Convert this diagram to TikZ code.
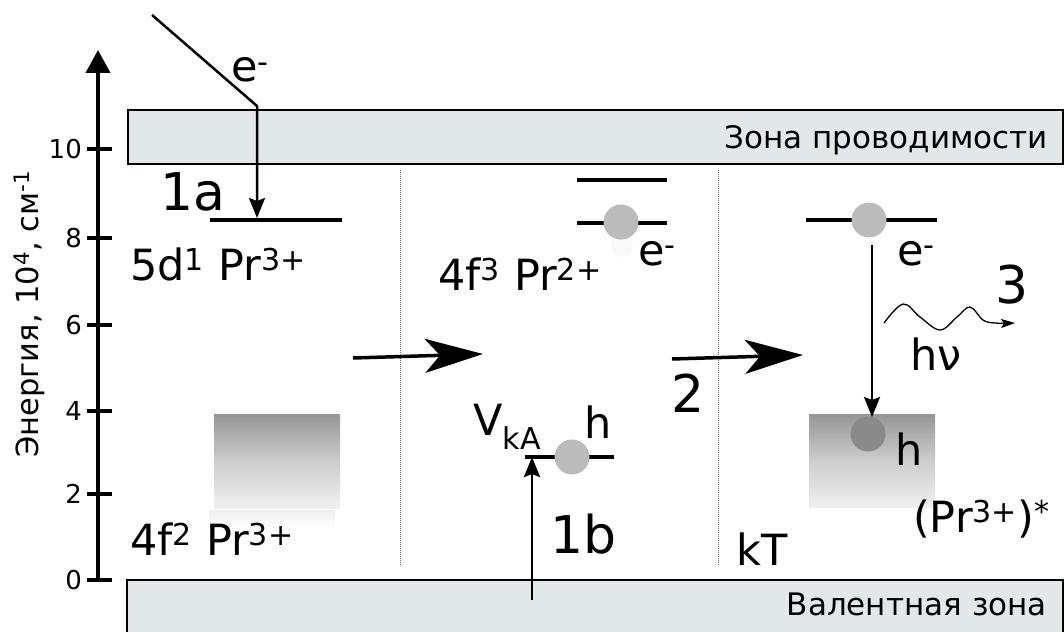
\documentclass[tikz,border=0pt]{standalone}
\usepackage{fontspec}
\setmainfont{DejaVu Sans}
\usetikzlibrary{arrows.meta}
\definecolor{bandfill}{RGB}{226,232,232}
\definecolor{dotgray}{RGB}{110,110,110}
\definecolor{ballgray}{RGB}{187,187,187}
\definecolor{balldark}{RGB}{138,138,138}
\definecolor{shtop}{RGB}{150,150,150}
\definecolor{shmid}{RGB}{205,205,205}
\definecolor{shbot}{RGB}{240,240,240}
\begin{document}
\begin{tikzpicture}[x=1pt,y=-1pt,
  lbl/.style={font=\fontsize{43}{50}\selectfont, inner sep=0pt, anchor=base west},
  biglbl/.style={font=\fontsize{52}{60}\selectfont, inner sep=0pt, anchor=base west},
  ticklbl/.style={font=\fontsize{26}{28}\selectfont, anchor=east, inner sep=0pt},
  bandlbl/.style={font=\fontsize{31}{36}\selectfont, anchor=base east, inner sep=0pt},
  level/.style={line width=3.5pt},
  band/.style={draw=black, line width=1.5pt, fill=bandfill},
  sepline/.style={draw=dotgray, line width=0.8pt, dash pattern=on 1pt off 1pt},
  thinarrow/.style={line width=2.5pt, -{Stealth[length=20pt,width=16pt,inset=3pt]}},
  bigarrow/.style={line width=3.5pt, -{Stealth[length=58pt,width=34pt,inset=15pt]}},
  ball/.style={circle, fill=ballgray, minimum size=35pt, inner sep=0pt},
  darkball/.style={circle, fill=balldark, minimum size=35pt, inner sep=0pt},
  gradbox/.style={top color=shtop, bottom color=shbot, middle color=shmid},
]
\useasboundingbox (0,0) rectangle (1064,631);

% bands
\draw[band] (128,110) rectangle (1063,164);
\node[bandlbl] (cb) at (1048,149) {Зона проводимости};
\draw[band] (127,580) rectangle (1063,640);
\node[bandlbl] (vb) at (1047,615) {Валентная зона};

% axis
\draw[line width=4pt, -{Triangle[length=23pt,width=24pt]}] (98,582) -- (98,50);
\foreach \yy/\lab in {149/10, 238/8, 325/6, 411/4, 494/2, 580/0} {
  \draw[line width=4pt] (87,\yy) -- (112,\yy);
  \node[ticklbl] (t\lab) at (82,\yy) {\lab};
}
\node[rotate=90, font=\fontsize{30.5}{34}\selectfont, inner sep=0pt] (axtitle) at (29,314) {Энергия, 10\textsuperscript{4}, см\textsuperscript{-1}};

% separators
\draw[sepline] (400,170) -- (400,565);
\draw[sepline] (718,170) -- (718,565);

% ---- left panel
\coordinate (ein) at (152,15);
\coordinate (ebend) at (257,106);
\coordinate (lvlAl) at (210,220);
\coordinate (lvlAr) at (342,220);
\coordinate (eend) at (257,218);
\draw[level] (lvlAl) -- (lvlAr);
\draw[thinarrow, line join=round] (ein) -- (ebend) -- (eend);
\node[lbl] (eA) at (231,82) {e\textsuperscript{-}};
\node[biglbl] (l1a) at (160,210) {1a};
\node[lbl] (pr5d) at (130,280) {5d\textsuperscript{1} Pr\textsuperscript{3+}};
\shade[gradbox] (214,414) rectangle (340,508);
\shade[top color=gray!12, bottom color=white] (209,510) rectangle (335,529);
\node[lbl] (pr4f2) at (130,555) {4f\textsuperscript{2} Pr\textsuperscript{3+}};

% ---- middle panel
\draw[level] (577,180) -- (667,180);
\draw[level] (577,223) -- (667,223);
\fill[gray!5] (622,246) circle (11);
\node[ball] (bM) at (621,222) {};
\node[lbl] (eM) at (638,265) {e\textsuperscript{-}};
\node[lbl] (pr4f3) at (438,290) {4f\textsuperscript{3} Pr\textsuperscript{2+}};
\coordinate (a1s) at (353,358);
\coordinate (a1e) at (483,354);
\draw[bigarrow] (a1s) -- (a1e);
\coordinate (a2s) at (672,359);
\coordinate (a2e) at (803,355);
\draw[bigarrow] (a2s) -- (a2e);
\node[biglbl] (l2) at (671,412) {2};
\node[lbl] (vka) at (473,435) {V\textsubscript{kA}};
\node[lbl] (hM) at (584,438) {h};
\coordinate (vkl) at (525,457);
\coordinate (vkr) at (614,457);
\draw[level] (vkl) -- (vkr);
\node[ball] (bV) at (572,457) {};
\coordinate (ups) at (532,600);
\coordinate (upe) at (532,457);
\draw[thinarrow] (ups) -- (upe);
\node[biglbl] (l1b) at (550,553) {1b};
\node[lbl] (kt) at (736,565) {kT};

% ---- right panel
\draw[level] (806,220) -- (937,220);
\node[ball] (bR) at (869,220) {};
\node[lbl] (eR) at (897,265) {e\textsuperscript{-}};
\shade[gradbox] (809,414) rectangle (935,507);
\node[darkball] (hR) at (868,434) {};
\coordinate (dns) at (872,245);
\coordinate (dne) at (872,417);
\draw[thinarrow] (dns) -- (dne);
\draw[line width=1.3pt, -{Stealth[length=14pt,width=9pt,inset=3pt]}]
  plot[smooth, tension=0.6] coordinates {(884,323) (903,304) (920,317) (940,330) (957,317) (970,307) (983,320) (995,323) (1015,323)};
\node[biglbl] (l3) at (995,303) {3};
\node[lbl] (hnu) at (910,370) {hν};
\node[lbl] (hRl) at (895,465) {h};
\node[lbl] (prs) at (913,532) {(Pr\textsuperscript{3+})\textsuperscript{*}};
\end{tikzpicture}
\end{document}
